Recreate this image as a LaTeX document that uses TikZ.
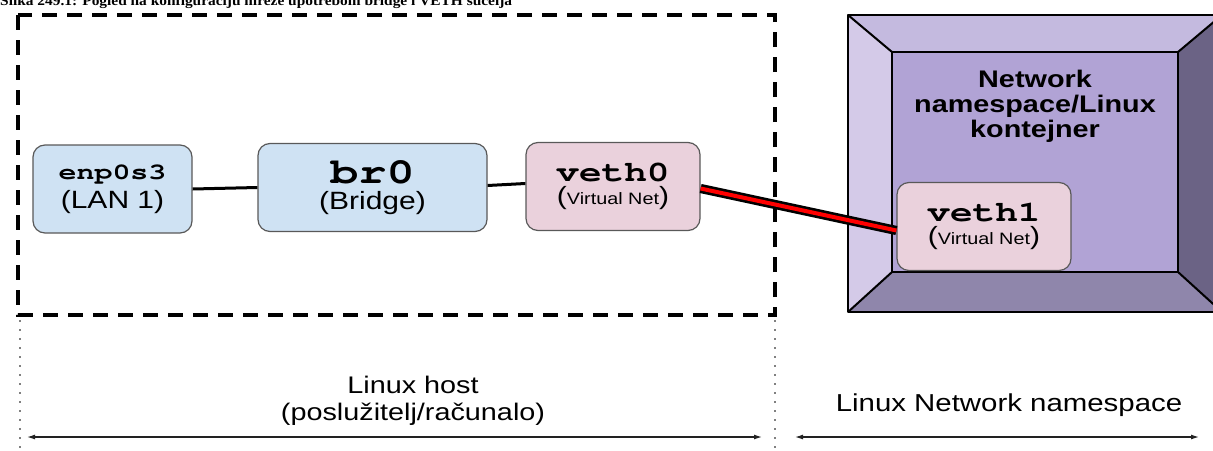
\documentclass[tikz,border=0pt]{standalone}
\usepackage{graphicx}
\usepackage{fontspec}
\setmainfont{Liberation Sans}[FakeStretch=1.2]
\newfontfamily\captionFont{Liberation Serif}[FakeStretch=1.1]
\usetikzlibrary{positioning,arrows.meta}
\definecolor{ifaceBlue}{HTML}{CFE2F3}
\definecolor{ifacePink}{HTML}{EAD1DC}
\definecolor{ifaceStroke}{HTML}{595959}
\definecolor{bevelTop}{HTML}{C4BADF}
\definecolor{bevelLeft}{HTML}{D4CAE8}
\definecolor{bevelRight}{HTML}{6B6385}
\definecolor{bevelBottom}{HTML}{8F86AB}
\definecolor{bevelFace}{HTML}{B1A3D5}
\definecolor{vethRed}{HTML}{FF0000}
\definecolor{ink}{HTML}{222222}

\begin{document}
\begin{tikzpicture}[
  x=1pt, y=-1pt,
  iface/.style={
    rectangle, rounded corners=12pt,
    draw=ifaceStroke, line width=1.2pt,
    fill=ifaceBlue,
    inner sep=0pt,
    align=center,
    minimum height=88pt,
    text=black
  },
  vethIface/.style={
    iface,
    fill=ifacePink,
    minimum width=174pt
  },
  wire/.style={
    line width=3pt,
    draw=black
  },
  vethPair/.style={
    line width=2.6pt,
    draw=black,
    double=vethRed,
    double distance=4pt
  },
  hostBox/.style={
    line width=3.5pt,
    draw=black,
    dash pattern=on 15pt off 10pt
  },
  divider/.style={
    line width=1.2pt,
    draw=gray,
    dash pattern=on 1.5pt off 7.5pt
  },
  spanArrow/.style={
    {Latex[length=8pt,width=5pt]}-{Latex[length=8pt,width=5pt]},
    line width=1.2pt,
    draw=ink
  },
  bevelEdge/.style={
    draw=black,
    line width=2pt,
    line join=round
  }
]

% Text macros for inside nodes
\newcommand{\ifaceName}[2]{\scalebox{1.3}[1]{\fontencoding{T1}\fontfamily{pcr}\fontseries{b}\fontsize{#1}{#1}\selectfont #2}}
\newcommand{\ifaceNote}[1]{{\fontsize{25}{28}\selectfont #1}}
\newcommand{\virtNote}{{\fontsize{25}{28}\selectfont(}{\fontsize{16.5}{20}\selectfont Virtual Net}{\fontsize{25}{28}\selectfont)}}

% Page the size of the reference, 1pt per pixel
\useasboundingbox (0, 0) rectangle (1213, 450);
\clip (0, 0) rectangle (1213, 450);

% Caption, cut by the top edge
\node[anchor=base west, inner sep=0pt] (caption) at (0, 5) {%
  \captionFont\bfseries\fontsize{14}{14}\selectfont
  Slika 249.1: Pogled na konfiguraciju mreže upotrebom bridge i VETH sučelja};

% Namespace box with bevelled frame
\coordinate (oTL) at (848, 15);
\coordinate (oTR) at (1222, 15);
\coordinate (oBR) at (1222, 312);
\coordinate (oBL) at (848, 312);
\coordinate (iTL) at (892, 52);
\coordinate (iTR) at (1178, 52);
\coordinate (iBR) at (1178, 272);
\coordinate (iBL) at (892, 272);
\fill[bevelTop] (oTL) -- (oTR) -- (iTR) -- (iTL) -- cycle;
\fill[bevelLeft] (oTL) -- (iTL) -- (iBL) -- (oBL) -- cycle;
\fill[bevelRight] (oTR) -- (oBR) -- (iBR) -- (iTR) -- cycle;
\fill[bevelBottom] (oBL) -- (iBL) -- (iBR) -- (oBR) -- cycle;
\fill[bevelFace] (iTL) rectangle (iBR);
\draw[bevelEdge] (oTL) rectangle (oBR);
\draw[bevelEdge] (iTL) rectangle (iBR);
\draw[bevelEdge] (oTL) -- (iTL) (oTR) -- (iTR) (oBR) -- (iBR) (oBL) -- (iBL);

\node[align=center, inner sep=0pt, font=\bfseries\fontsize{24}{25}\selectfont] (nsTitle) at (1035, 106) {%
  Network\\namespace/Linux\\kontejner};

% Linux host (dashed)
\draw[hostBox] (18, 15) rectangle (775, 315);

% Interfaces
\node[iface, minimum width=159pt] (enp) at (112.5, 189) {%
  \ifaceName{23}{enp0s3}\\[7pt]
  \ifaceNote{(LAN 1)}};
\node[iface, minimum width=229pt] (br) at (372.5, 187.5) {%
  \ifaceName{36}{br0}\\[6pt]
  \ifaceNote{(Bridge)}};
\node[vethIface] (vethA) at (613, 186.5) {%
  \ifaceName{29}{veth0}\\[4pt]
  \virtNote};
\node[vethIface] (vethB) at (984, 226.5) {%
  \ifaceName{29}{veth1}\\[4pt]
  \virtNote};

% Links
\draw[wire] (enp.east) -- (br.west);
\draw[wire] ([yshift=2pt]br.east) -- ([yshift=3pt]vethA.west);
\draw[vethPair] ([yshift=-2pt]vethA.east) -- ([yshift=-4pt]vethB.west);

% Extent markers
\draw[divider] (20, 320) -- (20, 450);
\draw[divider] (775, 320) -- (775, 450);
\coordinate (hostL) at (27, 437);
\coordinate (hostR) at (762, 437);
\coordinate (nsL) at (795, 437);
\coordinate (nsR) at (1199, 437);
\draw[spanArrow] (hostL) -- (hostR);
\draw[spanArrow] (nsL) -- (nsR);

\node[align=center, inner sep=0pt, font=\fontsize{24}{27}\selectfont] (hostLabel) at (413, 401) {%
  Linux host\\(poslužitelj/računalo)};
\node[inner sep=0pt, font=\fontsize{24.5}{27}\selectfont] (nsLabel) at (1009, 405) {%
  Linux Network namespace};

\end{tikzpicture}
\end{document}
